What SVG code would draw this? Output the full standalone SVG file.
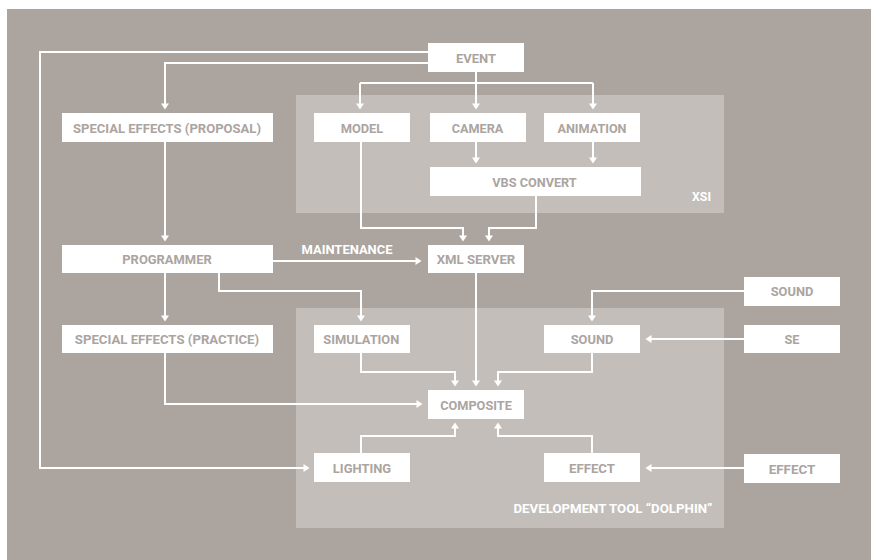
<svg xmlns="http://www.w3.org/2000/svg" width="871" height="560" viewBox="0 0 871 560">
<defs>
<style>
.node rect{fill:#ffffff}
.node text{fill:#aba49f;font-family:Roboto,"Liberation Sans",sans-serif;font-weight:bold;font-size:13.5px;text-anchor:middle}
.lbl{fill:#ffffff;font-family:Roboto,"Liberation Sans",sans-serif;font-weight:bold;font-size:13.5px;text-anchor:middle}
.panel{fill:#c3beba}
#connectors path{fill:none;stroke:#ffffff;stroke-width:2}
</style>
<marker id="ah" markerUnits="userSpaceOnUse" markerWidth="8" markerHeight="9" viewBox="0 0 6 9" refX="0.5" refY="4.5" orient="auto">
<path d="M0,0.5 L6,4.5 L0,8.5 z" fill="#ffffff"/>
</marker>
</defs>
<rect x="0" y="0" width="871" height="560" fill="#ffffff"/>
<rect x="7" y="9" width="864" height="551" fill="#aca59f"/>
<g id="panel-xsi">
<rect class="panel" x="296" y="95" width="428" height="118"/>
<text class="lbl" x="701.5" y="201" textLength="19" lengthAdjust="spacingAndGlyphs">XSI</text>
</g>
<g id="panel-dolphin">
<rect class="panel" x="296" y="308" width="428" height="220"/>
<text class="lbl" x="613" y="512.5" textLength="199" lengthAdjust="spacingAndGlyphs">DEVELOPMENT TOOL “DOLPHIN”</text>
</g>
<g id="connectors">
<path d="M428,52 H40 V468 H304" marker-end="url(#ah)"/>
<path d="M428,63 H165 V104" marker-end="url(#ah)"/>
<path d="M476,72 V104" marker-end="url(#ah)"/>
<path d="M360,83 H593" />
<path d="M360,83 V104" marker-end="url(#ah)"/>
<path d="M593,83 V104" marker-end="url(#ah)"/>
<path d="M476,142 V158" marker-end="url(#ah)"/>
<path d="M593,142 V158" marker-end="url(#ah)"/>
<path d="M361,142 V228 H463 V236" marker-end="url(#ah)"/>
<path d="M536,196 V228 H489 V236" marker-end="url(#ah)"/>
<path d="M165,142 V236" marker-end="url(#ah)"/>
<path d="M273,261 H416" marker-end="url(#ah)"/>
<path d="M219,273 V291 H361 V316" marker-end="url(#ah)"/>
<path d="M165,273 V316" marker-end="url(#ah)"/>
<path d="M476,273 V381" marker-end="url(#ah)"/>
<path d="M361,353 V372 H455 V381" marker-end="url(#ah)"/>
<path d="M592,353 V372 H498 V381" marker-end="url(#ah)"/>
<path d="M744,291 H592 V316" marker-end="url(#ah)"/>
<path d="M744,339 H651" marker-end="url(#ah)"/>
<path d="M744,468 H651" marker-end="url(#ah)"/>
<path d="M165,353 V404 H417" marker-end="url(#ah)"/>
<path d="M361,453 V436 H455 V428" marker-end="url(#ah)"/>
<path d="M592,453 V436 H498 V428" marker-end="url(#ah)"/>
</g>
<text class="lbl" x="347" y="254.3" textLength="91" lengthAdjust="spacingAndGlyphs">MAINTENANCE</text>
<g id="event" class="node"><rect x="428" y="43" width="96" height="29"/><text x="476" y="62.5" textLength="40" lengthAdjust="spacingAndGlyphs">EVENT</text></g>
<g id="sfx-proposal" class="node"><rect x="62" y="113" width="211" height="29"/><text x="167" y="132.5" textLength="188" lengthAdjust="spacingAndGlyphs">SPECIAL EFFECTS (PROPOSAL)</text></g>
<g id="model" class="node"><rect x="314" y="113" width="96" height="29"/><text x="362" y="132.5" textLength="42.6" lengthAdjust="spacingAndGlyphs">MODEL</text></g>
<g id="camera" class="node"><rect x="430" y="113" width="96" height="29"/><text x="477.5" y="132.5" textLength="51.6" lengthAdjust="spacingAndGlyphs">CAMERA</text></g>
<g id="animation" class="node"><rect x="544" y="113" width="96" height="29"/><text x="592" y="132.5" textLength="69" lengthAdjust="spacingAndGlyphs">ANIMATION</text></g>
<g id="vbs-convert" class="node"><rect x="430" y="167" width="211" height="29"/><text x="534.5" y="186.5" textLength="84.4" lengthAdjust="spacingAndGlyphs">VBS CONVERT</text></g>
<g id="programmer" class="node"><rect x="62" y="245" width="211" height="28"/><text x="167" y="264" textLength="89.4" lengthAdjust="spacingAndGlyphs">PROGRAMMER</text></g>
<g id="xml-server" class="node"><rect x="428" y="245" width="96" height="28"/><text x="476" y="264" textLength="78.6" lengthAdjust="spacingAndGlyphs">XML SERVER</text></g>
<g id="sfx-practice" class="node"><rect x="62" y="325" width="211" height="28"/><text x="167" y="344" textLength="184.3" lengthAdjust="spacingAndGlyphs">SPECIAL EFFECTS (PRACTICE)</text></g>
<g id="simulation" class="node"><rect x="314" y="325" width="96" height="28"/><text x="361.3" y="344" textLength="76" lengthAdjust="spacingAndGlyphs">SIMULATION</text></g>
<g id="sound-dev" class="node"><rect x="544" y="325" width="96" height="28"/><text x="592" y="344" textLength="42.6" lengthAdjust="spacingAndGlyphs">SOUND</text></g>
<g id="sound-src" class="node"><rect x="744" y="277" width="96" height="29"/><text x="792" y="296.3" textLength="42.6" lengthAdjust="spacingAndGlyphs">SOUND</text></g>
<g id="se" class="node"><rect x="744" y="325" width="96" height="28"/><text x="792" y="344" textLength="15" lengthAdjust="spacingAndGlyphs">SE</text></g>
<g id="composite" class="node"><rect x="428" y="390" width="96" height="29"/><text x="476" y="409.5" textLength="71.7" lengthAdjust="spacingAndGlyphs">COMPOSITE</text></g>
<g id="lighting" class="node"><rect x="314" y="453" width="96" height="29"/><text x="362" y="472.5" textLength="58.3" lengthAdjust="spacingAndGlyphs">LIGHTING</text></g>
<g id="effect-dev" class="node"><rect x="544" y="453" width="96" height="29"/><text x="592" y="472.5" textLength="46" lengthAdjust="spacingAndGlyphs">EFFECT</text></g>
<g id="effect-src" class="node"><rect x="744" y="454" width="96" height="29"/><text x="792" y="473.5" textLength="46.7" lengthAdjust="spacingAndGlyphs">EFFECT</text></g>
</svg>
